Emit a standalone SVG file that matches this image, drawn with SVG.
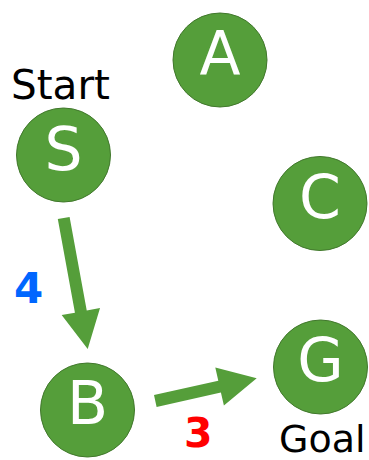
<svg xmlns="http://www.w3.org/2000/svg" width="369" height="460" viewBox="0 0 369 460">
  <style>
    .node circle { fill: #559e3a; stroke: #41782c; stroke-width: 1; }
    .node text { font-family: "DejaVu Sans", Verdana, sans-serif; font-size: 60px; fill: #ffffff; text-anchor: middle; }
    .arrow { fill: #559e3a; }
    .label { font-family: "DejaVu Sans", Verdana, sans-serif; fill: #000000; }
    .weight { font-family: "DejaVu Sans", Verdana, sans-serif; font-weight: bold; }
  </style>
  <rect width="369" height="460" fill="#ffffff"/>

  <!-- connectors: thick block arrows -->
  <g id="connectors">
    <polygon id="edge-S-B" class="arrow" points="57.8,219.1 74.95,312.7 61.67,315.1 87.7,349 100.03,308.1 86.75,310.5 69.6,216.9"/>
    <polygon id="edge-B-G" class="arrow" points="154.0,395.1 218.3,380.7 215.3,367.6 256.7,378.3 223.9,405.6 220.9,392.5 156.6,406.9"/>
  </g>

  <!-- edge weights -->
  <text class="weight" x="14" y="303" font-size="42" fill="#0066ff">4</text>
  <text class="weight" x="184" y="447" font-size="41" fill="#ff0000">3</text>

  <!-- nodes -->
  <g id="node-A" class="node">
    <circle cx="220" cy="60" r="47"/>
    <text x="220" y="74">A</text>
  </g>
  <g id="node-S" class="node">
    <circle cx="63.5" cy="155" r="47"/>
    <text x="63.5" y="170">S</text>
  </g>
  <g id="node-C" class="node">
    <circle cx="320" cy="203.5" r="47"/>
    <text x="320" y="218">C</text>
  </g>
  <g id="node-G" class="node">
    <circle cx="320.5" cy="367" r="47"/>
    <text x="320.5" y="381">G</text>
  </g>
  <g id="node-B" class="node">
    <circle cx="87.5" cy="410" r="47"/>
    <text x="87.5" y="424">B</text>
  </g>

  <!-- start / goal labels -->
  <text class="label" x="11" y="98.5" font-size="40.5">Start</text>
  <text class="label" x="279" y="452" font-size="38">Goal</text>
</svg>
